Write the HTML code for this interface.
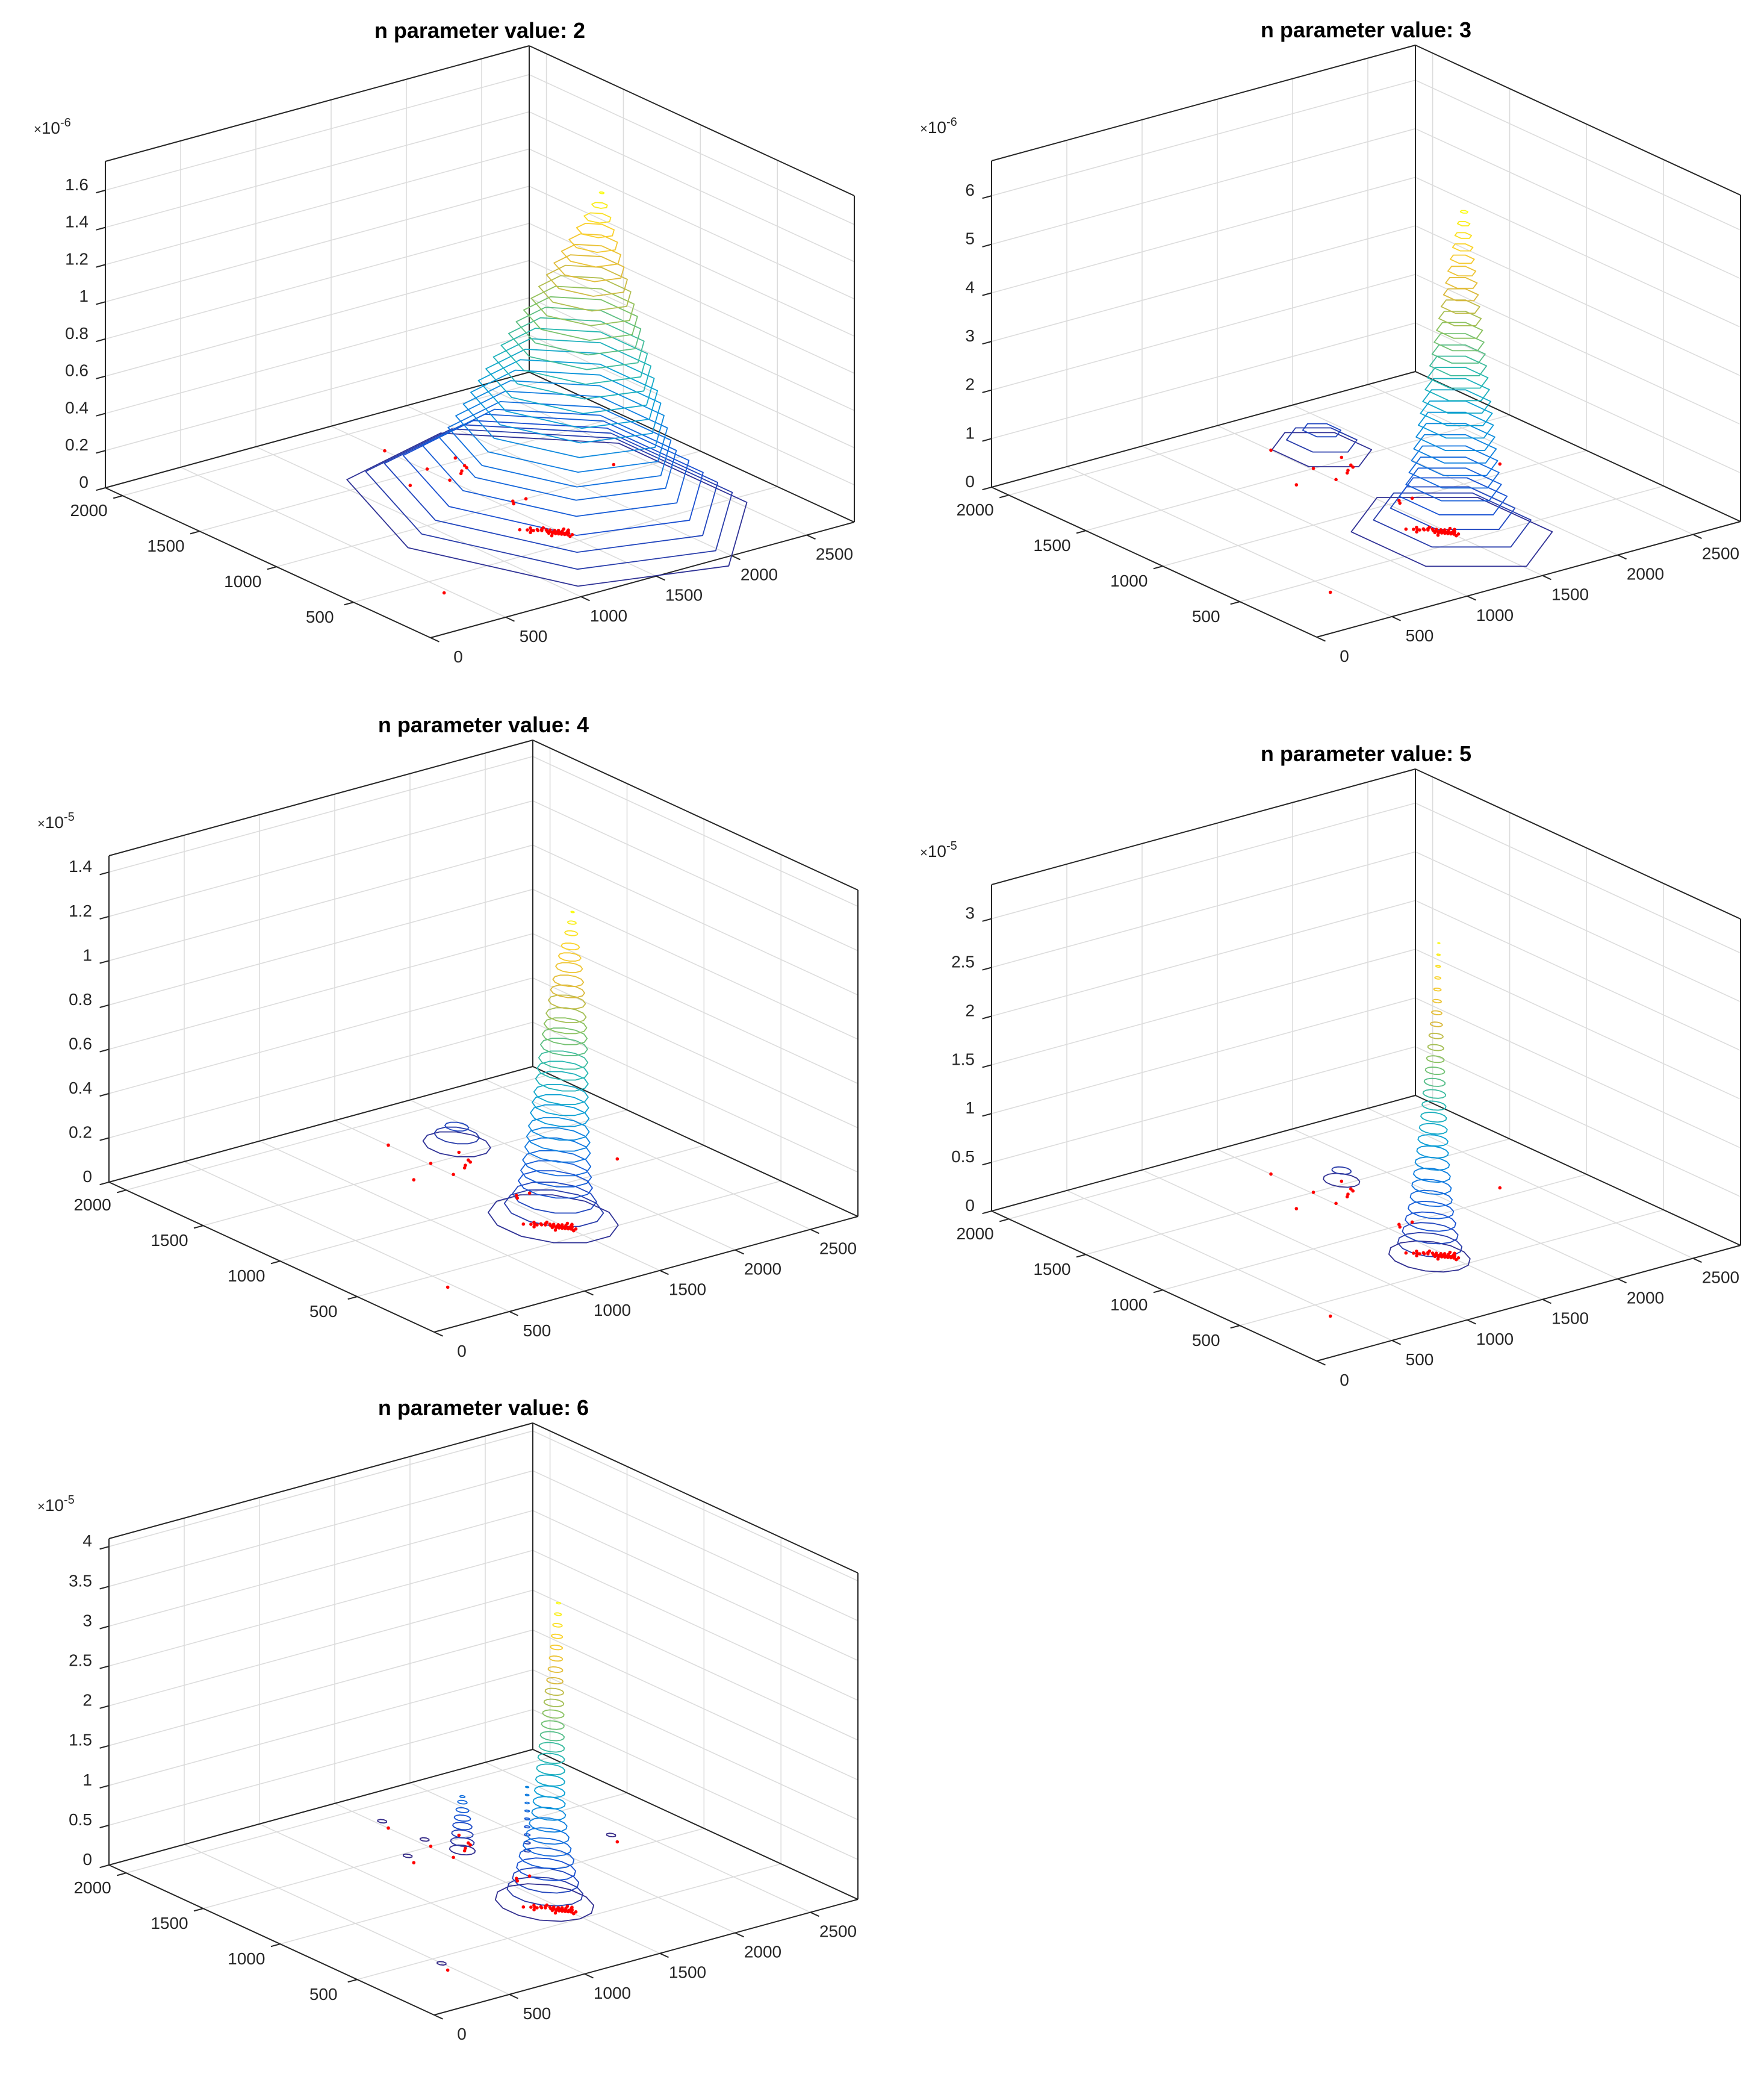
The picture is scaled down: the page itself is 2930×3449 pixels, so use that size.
<!DOCTYPE html>
<html><head><meta charset="utf-8"><title>n parameter contour plots</title>
<style>
html,body{margin:0;padding:0;background:#fff;}
svg{display:block;font-family:"Liberation Sans",Arial,sans-serif;}
</style></head>
<body>
<svg id="fig" xmlns="http://www.w3.org/2000/svg" width="2930" height="3449" viewBox="0 0 2930 3449"></svg>
<script>
// ---------- data ----------
const XMAX = 2816, YMAX = 2112;
const xTicks = [0, 500, 1000, 1500, 2000, 2500];
const yTicks = [500, 1000, 1500, 2000];

// observation points (floor)
const ptsX = [1501,1294,1513,1507,1731,1614,1690,1656,2332,463,1700,1640,1580,1560];
const ptsY = [1765,1397,1501,1348,1531,1380,1417,999,1090,364,1440,1400,1010,985];
const clusterX = [1400,1420,1435,1450,1460,1470,1480,1490,1500,1510,1440,1455,1465,1475,1485,1495,1505,1520,1530,1380,1395,1410,1425,1445,1460,1475,1490,1505,1515,1370,1350,1540,1550,1430,1465,1525,1535,1500];
const clusterY = [700,690,680,660,650,640,630,620,610,600,640,630,620,610,600,590,580,590,600,720,710,730,700,690,675,665,650,640,625,690,740,640,620,610,700,570,610,560];

// plot 1 (n=2)
const p1ZTicks = [0,0.2,0.4,0.6,0.8,1,1.2,1.4,1.6];
const p1ZLabels = ["0","0.2","0.4","0.6","0.8","1","1.2","1.4","1.6"];
const p1Levels = [0.04,0.09,0.14,0.19,0.25,0.30,0.35,0.41,0.47,0.53,0.59,0.65,0.71,0.77,0.83,0.89,0.95,1.01,1.07,1.13,1.19,1.25,1.31,1.37,1.43,1.49,1.55];
const p1Radii  = [960,880,800,720,640,570,535,508,482,456,430,404,378,351,325,299,273,247,221,194,168,142,116,90,64,37,11];
const p1Base = [1600,780], p1Apex = [2133,973];

// plot 2 (n=3)
const p2ZTicks = [0,1,2,3,4,5,6];
const p2ZLabels = ["0","1","2","3","4","5","6"];
const p2Levels = [0.13,0.33,0.53,0.73,0.93,1.13,1.33,1.53,1.73,1.93,2.13,2.33,2.53,2.73,2.93,3.13,3.33,3.53,3.73,3.93,4.13,4.33,4.53,4.73,4.93,5.13,5.33,5.53];
const p2Radii  = [485,380,300,260,230,217,208,199,190,181,173,164,155,146,137,128,120,111,102,93,84,76,67,58,49,40,30,18];
const p2Base = [1446,538], p2Apex = [2034,1031];
const p2SecLevels = [0.13,0.33,0.53];
const p2SecRadii = [240,170,92];
const p2SecCenter = [1661,1591];

// plot 3 (n=4)
const p3ZTicks = [0,0.2,0.4,0.6,0.8,1,1.2,1.4];
const p3ZLabels = ["0","0.2","0.4","0.6","0.8","1","1.2","1.4"];
const p3Levels = [0.03,0.07,0.11,0.16,0.20,0.24,0.29,0.33,0.37,0.42,0.46,0.50,0.55,0.59,0.63,0.68,0.72,0.76,0.80,0.85,0.89,0.93,0.98,1.02,1.06,1.11,1.15,1.19];
const p3Radii  = [302,230,195,172,164,158,152,147,141,136,131,126,122,118,114,109,104,99,93,86,79,71,62,52,42,30,20,8];
const p3Base = [1449,646], p3Apex = [1995,1051];
const p3SecLevels = [0.03,0.07,0.11];
const p3SecRadii = [157,105,55];
const p3SecCenter = [1734,1548];

// plot 4 (n=5)
const p4ZTicks = [0,0.5,1,1.5,2,2.5,3];
const p4ZLabels = ["0","0.5","1","1.5","2","2.5","3"];
const p4Levels = [0.05,0.15,0.25,0.35,0.45,0.55,0.65,0.75,0.85,0.95,1.05,1.15,1.25,1.35,1.45,1.55,1.65,1.75,1.85,1.95,2.05,2.15,2.25,2.35,2.45,2.55,2.65,2.75];
const p4Radii  = [190,150,130,118,106,98,92,86,80,74,70,65,60,56,53,49,45,41,37,33,28,24,20,17,14,11,8,5];
const p4Base = [1364,602], p4Apex = [1867,1032];
const p4SecLevels = [0.05,0.15];
const p4SecRadii = [85,45];
const p4SecCenter = [1695,1496];

// plot 5 (n=6)
const p5ZTicks = [0,0.5,1,1.5,2,2.5,3,3.5,4];
const p5ZLabels = ["0","0.5","1","1.5","2","2.5","3","3.5","4"];
const p5Levels = [0.05,0.17,0.29,0.41,0.53,0.65,0.77,0.89,1.01,1.13,1.25,1.37,1.49,1.61,1.73,1.85,1.97,2.09,2.21,2.33,2.45,2.57,2.69,2.81,2.93,3.05,3.17,3.29];
const p5Radii  = [230,177,155,138,128,112,100,88,79,75,71,68,66,62,59,56,53,50,46,43,38,34,31,28,26,22,16,10];
const p5Base = [1436,688], p5Apex = [1877,1027];
const p5SecLevels = [0.05,0.15,0.25,0.35,0.45,0.55,0.65,0.72];
const p5SecRadii = [60,55,50,45,38,30,22,12];
const p5SecCenter = [1576,1357];
const p5ColLevels = [0.15,0.25,0.35,0.45,0.55,0.65,0.75,0.85,0.95];
const p5ColRadii = [16,15,14,13,12,11,10,9,8];
const p5ColCenter = [1767,1123];
const p5BlobIdx = [0,1,2,8,9];

// ---------- rendering ----------
const NS = "http://www.w3.org/2000/svg";
const svg = document.getElementById('fig');
const parulaStops = [[53,42,135],[25,80,210],[15,120,225],[10,160,215],[40,185,175],[130,195,100],[220,185,60],[250,205,45],[249,251,21]];
function parula(t){
  t = Math.max(0, Math.min(1, t));
  const n = parulaStops.length - 1, f = t * n, i = Math.min(n - 1, Math.floor(f)), u = f - i;
  const a = parulaStops[i], b = parulaStops[i + 1];
  return 'rgb(' + [0,1,2].map(k => Math.round(a[k] + (b[k] - a[k]) * u)).join(',') + ')';
}
function mk(tag, parent){ const e = document.createElementNS(NS, tag); parent.appendChild(e); return e; }

const plots = [
  {bx:879,by:622,zmax:1.755,exp:'-6',title:'n parameter value: 2',zt:p1ZTicks,zl:p1ZLabels,lv:p1Levels,rd:p1Radii,base:p1Base,apex:p1Apex,nv:7,sec:null},
  {bx:2351,by:621,zmax:6.72,exp:'-6',title:'n parameter value: 3',zt:p2ZTicks,zl:p2ZLabels,lv:p2Levels,rd:p2Radii,base:p2Base,apex:p2Apex,nv:6,sec:[p2SecLevels,p2SecRadii,p2SecCenter]},
  {bx:885,by:1775,zmax:1.474,exp:'-5',title:'n parameter value: 4',zt:p3ZTicks,zl:p3ZLabels,lv:p3Levels,rd:p3Radii,base:p3Base,apex:p3Apex,nv:12,sec:[p3SecLevels,p3SecRadii,p3SecCenter]},
  {bx:2351,by:1823,zmax:3.35,exp:'-5',title:'n parameter value: 5',zt:p4ZTicks,zl:p4ZLabels,lv:p4Levels,rd:p4Radii,base:p4Base,apex:p4Apex,nv:14,sec:[p4SecLevels,p4SecRadii,p4SecCenter]},
  {bx:885,by:2909,zmax:4.10,exp:'-5',title:'n parameter value: 6',zt:p5ZTicks,zl:p5ZLabels,lv:p5Levels,rd:p5Radii,base:p5Base,apex:p5Apex,nv:14,sec:[p5SecLevels,p5SecRadii,p5SecCenter]}
];

plots.forEach((P, pi) => {
  const g = mk('g', svg);
  
  
  const Fx = P.bx - 164, Fy = P.by + 437;
  const proj = (x, y, z) => [Fx + x / XMAX * 704 - y / YMAX * 540, Fy - x / XMAX * 192 - y / YMAX * 249 - z / P.zmax * 542];
  const line = (a, b, col, w, name) => {
    const l = mk('line', g);
    l.setAttribute('x1', a[0].toFixed(1)); l.setAttribute('y1', a[1].toFixed(1));
    l.setAttribute('x2', b[0].toFixed(1)); l.setAttribute('y2', b[1].toFixed(1));
    l.setAttribute('stroke', col); l.setAttribute('stroke-width', w);
    
    
  };
  const text = (x, y, s, size, anchor, name, weight) => {
    const t = mk('text', g);
    t.setAttribute('x', x.toFixed(1)); t.setAttribute('y', y.toFixed(1));
    t.setAttribute('font-size', size); t.setAttribute('text-anchor', anchor);
    t.setAttribute('fill', weight ? '#000' : '#262626');
    if (weight) t.setAttribute('font-weight', 'bold');
    t.textContent = s;
    
    
    return t;
  };
  const GRID = '#dcdcdc';
  xTicks.forEach(v => line(proj(v,0,0), proj(v,YMAX,0), GRID, 1.6, 'floor-grid-x'));
  yTicks.forEach(v => line(proj(0,v,0), proj(XMAX,v,0), GRID, 1.6, 'floor-grid-y'));
  xTicks.forEach(v => line(proj(v,YMAX,0), proj(v,YMAX,P.zmax), GRID, 1.6, 'wall-grid-x'));
  yTicks.forEach(v => line(proj(XMAX,v,0), proj(XMAX,v,P.zmax), GRID, 1.6, 'wall-grid-y'));
  P.zt.forEach(v => {
    line(proj(0,YMAX,v), proj(XMAX,YMAX,v), GRID, 1.6, 'wall-grid-z');
    line(proj(XMAX,YMAX,v), proj(XMAX,0,v), GRID, 1.6, 'wall-grid-z');
  });
  const BOX = '#262626';
  const c = {F:[0,0],R:[XMAX,0],L:[0,YMAX],B:[XMAX,YMAX]};
  line(proj(0,0,0), proj(XMAX,0,0), BOX, 2, 'x-axis-line');
  line(proj(0,0,0), proj(0,YMAX,0), BOX, 2, 'y-axis-line');
  line(proj(0,YMAX,0), proj(XMAX,YMAX,0), BOX, 2, 'box-edge');
  line(proj(XMAX,YMAX,0), proj(XMAX,0,0), BOX, 2, 'box-edge');
  ['L','B','R'].forEach(k => line(proj(c[k][0],c[k][1],0), proj(c[k][0],c[k][1],P.zmax), BOX, 2, k === 'L' ? 'z-axis-line' : 'box-edge'));
  line(proj(0,YMAX,P.zmax), proj(XMAX,YMAX,P.zmax), BOX, 2, 'box-edge');
  line(proj(XMAX,YMAX,P.zmax), proj(XMAX,0,P.zmax), BOX, 2, 'box-edge');
  const rdx = 704 / Math.hypot(704,192), rdy = -192 / Math.hypot(704,192);
  const ldx = -540 / Math.hypot(540,249), ldy = -249 / Math.hypot(540,249);
  xTicks.forEach((v, i) => {
    const p = proj(v,0,0);
    line(p, [p[0] - ldx*16, p[1] - ldy*16], BOX, 2, 'x-tick');
    text(p[0] + 46, p[1] + 41, String(v), 28, 'middle', 'x-tick-label');
  });
  yTicks.forEach(v => {
    const p = proj(0,v,0);
    line(p, [p[0] - rdx*16, p[1] - rdy*16], BOX, 2, 'y-tick');
    text(p[0] - 56, p[1] + 34, String(v), 28, 'middle', 'y-tick-label');
  });
  P.zt.forEach((v, i) => {
    const p = proj(0,YMAX,v);
    line(p, [p[0] - rdx*16, p[1] - rdy*16], BOX, 2, 'z-tick');
    text(p[0] - 28, p[1] + 0, P.zl[i], 28, 'end', 'z-tick-label');
  });
  const tl = proj(0,YMAX,P.zmax);
  const ex = text(tl[0] - 119, tl[1] - 46, '', 28, 'start', 'z-exponent-label');
  const t1 = document.createElementNS(NS,'tspan'); t1.textContent = '\u00d7'; t1.setAttribute('font-size','22'); ex.appendChild(t1);
  const t2 = document.createElementNS(NS,'tspan'); t2.textContent = '10'; ex.appendChild(t2);
  const t3 = document.createElementNS(NS,'tspan'); t3.textContent = P.exp; t3.setAttribute('font-size','20'); t3.setAttribute('dy','-12'); ex.appendChild(t3);
  text(P.bx - 82, P.by - 542 - 17, P.title, 36, 'middle', 'plot-title', true);

  const ring = (cx, cy, z, r, nv, col, name) => {
    const pts = [];
    for (let k = 0; k < nv; k++) {
      const a = (k + 0.5) / nv * Math.PI * 2;
      const q = proj(cx + r * Math.cos(a), cy + r * Math.sin(a), z);
      pts.push(q[0].toFixed(1) + ',' + q[1].toFixed(1));
    }
    const pg = mk('polygon', g);
    pg.setAttribute('points', pts.join(' '));
    pg.setAttribute('fill', 'none'); pg.setAttribute('stroke', col); pg.setAttribute('stroke-width', 1.8);
    pg.setAttribute('stroke-linejoin', 'round');
    
    
  };
  const zTop = P.lv[P.lv.length - 1];
  if (P.sec) P.sec[0].forEach((z, i) => ring(P.sec[2][0], P.sec[2][1], z, P.sec[1][i], P.nv, parula(z / zTop), 'secondary-contour'));
  if (pi === 4) {
    p5ColLevels.forEach((z, i) => ring(p5ColCenter[0], p5ColCenter[1], z, p5ColRadii[i], 8, parula(z / zTop), 'minor-contour'));
    p5BlobIdx.forEach(i => ring(ptsX[i], ptsY[i] + 40, 0.05, 22, 8, parula(0), 'point-contour'));
  }
  P.lv.forEach((z, i) => {
    const cx = P.base[0] + (P.apex[0] - P.base[0]) * (z / zTop);
    const cy = P.base[1] + (P.apex[1] - P.base[1]) * (z / zTop);
    ring(cx, cy, z, P.rd[i], P.nv, parula(z / zTop), 'contour-level');
  });
  const dot = (x, y) => {
    const p = proj(x, y, 0);
    const ci = mk('circle', g);
    ci.setAttribute('cx', p[0].toFixed(1)); ci.setAttribute('cy', p[1].toFixed(1));
    ci.setAttribute('r', 2.8); ci.setAttribute('fill', '#ff0000');
    
    
  };
  ptsX.forEach((x, i) => dot(x, ptsY[i]));
  clusterX.forEach((x, i) => dot(x, clusterY[i]));
});
</script>
</body></html>
